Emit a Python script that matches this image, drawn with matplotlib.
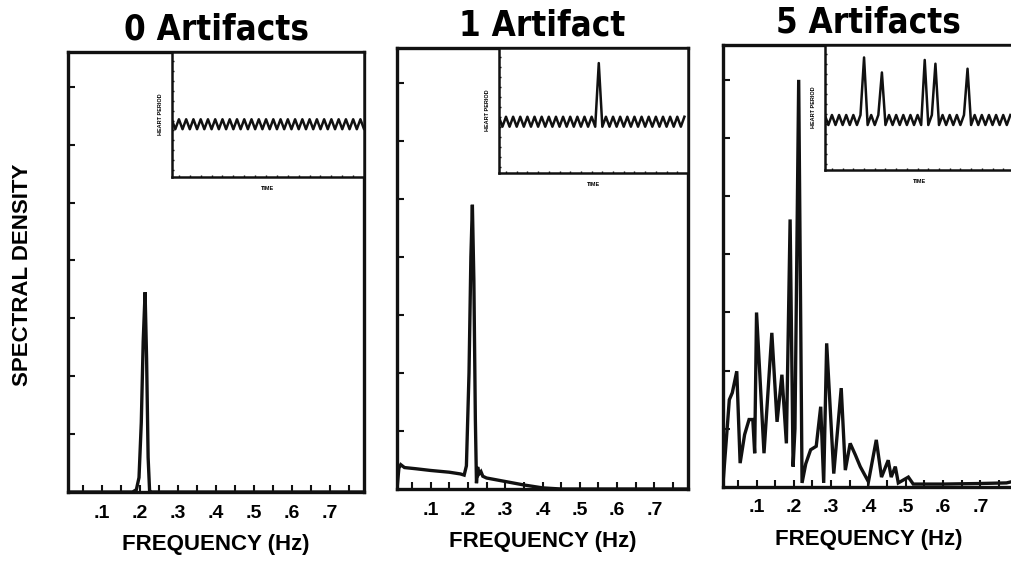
import numpy as np
import matplotlib
matplotlib.use("Agg")
import matplotlib.pyplot as plt
from matplotlib.ticker import FixedLocator

plt.rcParams['font.family'] = ['Liberation Sans', 'DejaVu Sans']

titles = ["0 Artifacts", "1 Artifact", "5 Artifacts"]
tick_vals = [0.1, 0.2, 0.3, 0.4, 0.5, 0.6, 0.7]
tick_text = [".1", ".2", ".3", ".4", ".5", ".6", ".7"]

# spectra (frequency in Hz, density in tick units)
f0 = [0.01, 0.18, 0.19, 0.197, 0.203, 0.208, 0.213, 0.217, 0.221, 0.225, 0.23, 0.79]
s0 = [0.0, 0.0, 0.04, 0.25, 1.2, 2.6, 3.45, 2.3, 0.6, 0.0, 0.0, 0.0]

f1 = [0.01, 0.015, 0.02, 0.03, 0.06, 0.1, 0.15, 0.18, 0.19, 0.196, 0.203, 0.208,
      0.212, 0.216, 0.22, 0.223, 0.226, 0.23, 0.235, 0.24, 0.25, 0.3, 0.35, 0.4,
      0.45, 0.79]
s1 = [0.0, 0.36, 0.42, 0.37, 0.35, 0.32, 0.29, 0.26, 0.24, 0.4, 2.0, 4.0,
      4.9, 3.6, 1.2, 0.1, 0.38, 0.26, 0.3, 0.22, 0.19, 0.13, 0.07, 0.02,
      0.0, 0.0]

f5 = [0.01, 0.02, 0.027, 0.035, 0.047, 0.056, 0.068, 0.08, 0.09, 0.095, 0.1,
      0.12, 0.141, 0.155, 0.168, 0.18, 0.19, 0.198, 0.203, 0.213, 0.222,
      0.232, 0.245, 0.26, 0.272, 0.28, 0.288, 0.307, 0.327, 0.338, 0.351,
      0.365, 0.378, 0.4, 0.421, 0.435, 0.453, 0.461, 0.472, 0.48, 0.507,
      0.52, 0.6, 0.7, 0.77, 0.79]
s5 = [0.05, 0.9, 1.5, 1.62, 1.99, 0.41, 0.9, 1.16, 1.16, 0.58, 3.0,
      0.58, 2.65, 1.12, 1.93, 0.75, 4.6, 0.35, 1.0, 7.0, 0.07,
      0.4, 0.64, 0.7, 1.38, 0.07, 2.47, 0.23, 1.7, 0.29, 0.75,
      0.55, 0.35, 0.09, 0.81, 0.17, 0.46, 0.17, 0.35, 0.07, 0.17,
      0.05, 0.05, 0.06, 0.07, 0.1]

freqs = [f0, f1, f5]
dens = [s0, s1, s5]

# inset heart period traces, sampled every half beat (0..1 inset units)
hp0 = [0.46, 0.38, 0.46, 0.38, 0.46, 0.38, 0.46, 0.38, 0.46, 0.38, 0.46, 0.38,
       0.46, 0.38, 0.46, 0.38, 0.46, 0.38, 0.46, 0.38, 0.46, 0.38, 0.46, 0.38,
       0.46, 0.38, 0.46, 0.38, 0.46, 0.38, 0.46, 0.38, 0.46, 0.38, 0.46, 0.38,
       0.46, 0.38, 0.46, 0.38, 0.46, 0.38, 0.46, 0.38, 0.46, 0.38, 0.46, 0.38,
       0.46, 0.38, 0.46, 0.38, 0.46, 0.38, 0.46]
hp1 = [0.45, 0.37, 0.45, 0.37, 0.45, 0.37, 0.45, 0.37, 0.45, 0.37, 0.45, 0.37,
       0.45, 0.37, 0.45, 0.37, 0.45, 0.37, 0.45, 0.37, 0.45, 0.37, 0.45, 0.37,
       0.45, 0.37, 0.45, 0.37, 0.88, 0.37, 0.45, 0.37, 0.45, 0.37, 0.45, 0.37,
       0.45, 0.37, 0.45, 0.37, 0.45, 0.37, 0.45, 0.37, 0.45, 0.37, 0.45, 0.37,
       0.45, 0.37, 0.45, 0.37, 0.45]
hp5 = [0.44, 0.36, 0.44, 0.36, 0.44, 0.36, 0.44, 0.36, 0.44, 0.36, 0.44, 0.90,
       0.36, 0.44, 0.36, 0.44, 0.78, 0.36, 0.44, 0.36, 0.44, 0.36, 0.44, 0.36,
       0.44, 0.36, 0.44, 0.36, 0.88, 0.36, 0.44, 0.85, 0.36, 0.44, 0.36, 0.44,
       0.36, 0.44, 0.36, 0.44, 0.81, 0.36, 0.44, 0.36, 0.44, 0.36, 0.44, 0.36,
       0.44, 0.36, 0.44, 0.36, 0.44]
traces = [hp0, hp1, hp5]

fig = plt.figure(figsize=(10.11, 5.66), dpi=100)

boxes = [[0.0673, 0.1307, 0.2928, 0.7774],
         [0.3927, 0.1360, 0.2878, 0.7790],
         [0.7151, 0.1396, 0.2878, 0.7810]]

for i in range(3):
    ax = fig.add_axes(boxes[i])
    ax.plot(freqs[i], dens[i], color='#111111', lw=2.4, solid_joinstyle='miter')
    ax.set_xlim(0.01, 0.79)
    ax.set_ylim(0, 7.6)
    ax.xaxis.set_major_locator(FixedLocator(tick_vals))
    ax.xaxis.set_minor_locator(FixedLocator([0.05, 0.15, 0.25, 0.35, 0.45, 0.55, 0.65, 0.75]))
    ax.set_xticklabels(tick_text, fontsize=14, fontweight='bold')
    ax.yaxis.set_major_locator(FixedLocator([1, 2, 3, 4, 5, 6, 7]))
    ax.set_yticklabels([])
    ax.tick_params(which='both', direction='in', length=5, width=1.5, color='#111111')
    ax.tick_params(axis='x', pad=9)
    for sp in ax.spines.values():
        sp.set_linewidth(2.4)
        sp.set_color('#111111')
    ax.set_xlabel("FREQUENCY (Hz)", fontsize=16, fontweight='bold', labelpad=9)
    ax.set_title(titles[i], fontsize=25, fontweight='bold', pad=9,
                 family='DejaVu Sans', fontstretch='condensed')

    ins = ax.inset_axes([0.35, 0.717, 0.65, 0.283])
    hp = traces[i]
    ins.plot(np.arange(len(hp)) * 0.5, hp, color='#111111', lw=1.8)
    ins.set_xlim(0, 26.5)
    ins.set_ylim(0, 1)
    ins.set_xticks(np.arange(1, 26, 1.5))
    ins.set_yticks(np.arange(0.05, 1, 0.08))
    ins.set_xticklabels([])
    ins.set_yticklabels([])
    ins.tick_params(direction='in', length=1.5, width=1, color='#111111')
    for sp in ins.spines.values():
        sp.set_linewidth(1.8)
        sp.set_color('#111111')
    ins.set_ylabel("HEART PERIOD", fontsize=4, fontweight='bold', labelpad=3)
    ins.set_xlabel("TIME", fontsize=4, fontweight='bold', labelpad=3)

fig.text(0.022, 0.514, "SPECTRAL DENSITY", rotation=90, ha='center', va='center',
         fontsize=16, fontweight='bold')

fig.savefig("out.png", dpi=100, facecolor='white')
